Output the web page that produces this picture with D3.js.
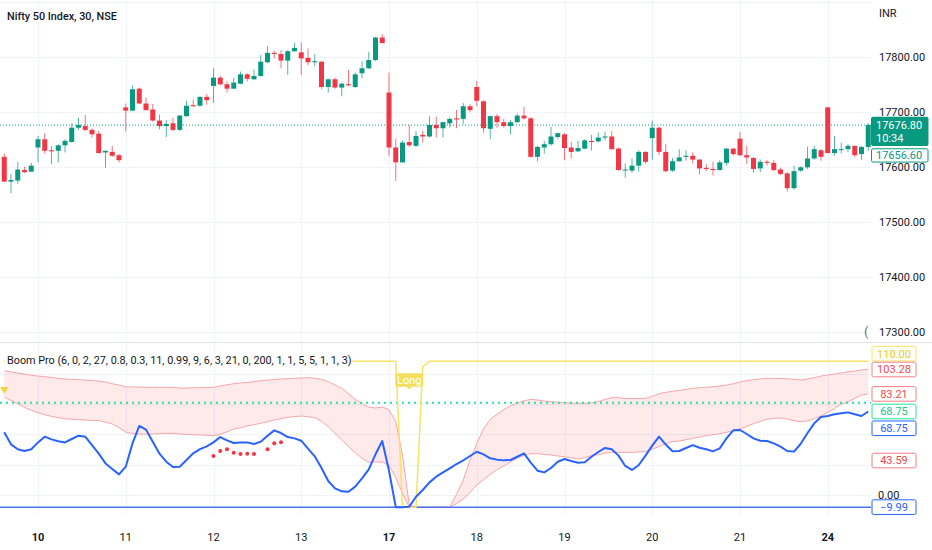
<!DOCTYPE html>
<html>
<head>
<meta charset="utf-8">
<script src="https://cdn.jsdelivr.net/npm/d3@7"></script>
<style>
  body { margin: 0; background: #fff; }
  svg { display: block; font-family: Roboto, "Noto Sans", sans-serif; }
</style>
</head>
<body>
<div id="chart"></div>
<script>
// ---- data (30 min bars, Nifty 50) ----
// first day is only partly visible, so its label is not drawn
var dayLabels  = ["9", "10", "11", "12", "13", "17", "18", "19", "20", "21", "24"];
var dayBars    = [5, 13, 13, 13, 13, 13, 13, 13, 13, 13, 7];
var weekStarts = ["10", "17", "24"];

var open = [
  17619, 17574, 17576, 17595, 17592,
  17636, 17651, 17631, 17630, 17640, 17646, 17672, 17675, 17668, 17661, 17627, 17628, 17622,
  17709, 17703, 17743, 17716, 17705, 17685, 17675, 17680, 17668, 17693, 17713, 17712, 17728,
  17748, 17763, 17751, 17743, 17752, 17769, 17760, 17766, 17791, 17808, 17806, 17794, 17811,
  17809, 17799, 17791, 17792, 17746, 17760, 17745, 17751, 17746, 17771, 17780, 17795, 17836,
  17736, 17636, 17609, 17646, 17639, 17659, 17656, 17677, 17671, 17680, 17689, 17688, 17711,
  17746, 17720, 17670, 17693, 17682, 17675, 17682, 17694, 17689, 17619, 17636, 17642, 17655,
  17660, 17636, 17629, 17634, 17648, 17647, 17654, 17656, 17634, 17595, 17594, 17603, 17628,
  17653, 17672, 17628, 17594, 17611, 17619, 17621, 17614, 17599, 17597, 17595, 17608, 17634,
  17652, 17622, 17617, 17598, 17610, 17608, 17596, 17589, 17562, 17594, 17600, 17616, 17631,
  17709, 17626, 17632, 17633, 17639, 17624, 17637
];
var high = [
  17625, 17588, 17610, 17601, 17608,
  17657, 17662, 17639, 17642, 17651, 17680, 17690, 17695, 17671, 17666, 17630, 17639, 17624,
  17716, 17749, 17745, 17727, 17715, 17696, 17686, 17690, 17695, 17721, 17723, 17729, 17733,
  17780, 17766, 17756, 17763, 17774, 17771, 17778, 17804, 17820, 17812, 17813, 17813, 17826,
  17827, 17816, 17806, 17793, 17761, 17763, 17754, 17777, 17772, 17793, 17810, 17837, 17842,
  17772, 17652, 17649, 17677, 17666, 17666, 17693, 17692, 17683, 17691, 17704, 17717, 17715,
  17757, 17722, 17694, 17697, 17688, 17686, 17698, 17710, 17691, 17639, 17648, 17674, 17663,
  17662, 17646, 17648, 17651, 17659, 17663, 17665, 17666, 17636, 17607, 17616, 17631, 17629,
  17685, 17674, 17642, 17617, 17633, 17631, 17627, 17615, 17606, 17610, 17613, 17635, 17635,
  17664, 17639, 17619, 17614, 17613, 17613, 17599, 17591, 17603, 17602, 17637, 17639, 17633,
  17710, 17657, 17645, 17642, 17639, 17639, 17680
];
var low = [
  17574, 17553, 17570, 17590, 17592,
  17609, 17625, 17606, 17609, 17627, 17645, 17668, 17666, 17654, 17625, 17599, 17619, 17609,
  17665, 17703, 17715, 17703, 17683, 17669, 17655, 17666, 17666, 17692, 17710, 17710, 17714,
  17717, 17749, 17736, 17742, 17751, 17756, 17759, 17765, 17790, 17798, 17780, 17768, 17810,
  17768, 17786, 17784, 17742, 17736, 17743, 17729, 17748, 17744, 17762, 17779, 17793, 17825,
  17620, 17575, 17609, 17637, 17637, 17645, 17654, 17654, 17654, 17672, 17671, 17679, 17700,
  17711, 17663, 17651, 17672, 17672, 17660, 17681, 17687, 17618, 17611, 17625, 17639, 17652,
  17613, 17616, 17628, 17633, 17631, 17646, 17649, 17632, 17594, 17581, 17590, 17592, 17607,
  17614, 17622, 17591, 17592, 17610, 17612, 17607, 17587, 17593, 17585, 17594, 17603, 17621,
  17620, 17606, 17590, 17591, 17603, 17593, 17586, 17556, 17560, 17592, 17597, 17614, 17612,
  17625, 17621, 17625, 17628, 17618, 17614, 17630
];
var close = [
  17574, 17577, 17596, 17591, 17603,
  17651, 17630, 17629, 17640, 17648, 17672, 17677, 17668, 17660, 17626, 17630, 17621, 17613,
  17703, 17742, 17716, 17704, 17685, 17675, 17679, 17668, 17694, 17712, 17711, 17728, 17722,
  17763, 17751, 17743, 17754, 17769, 17761, 17766, 17792, 17808, 17806, 17794, 17811, 17817,
  17798, 17791, 17793, 17746, 17760, 17745, 17752, 17749, 17769, 17780, 17795, 17836, 17826,
  17636, 17609, 17645, 17640, 17657, 17656, 17677, 17671, 17682, 17688, 17687, 17711, 17704,
  17721, 17671, 17693, 17682, 17675, 17682, 17694, 17689, 17619, 17637, 17642, 17656, 17662,
  17635, 17628, 17635, 17649, 17646, 17654, 17656, 17633, 17595, 17596, 17603, 17628, 17610,
  17672, 17628, 17593, 17611, 17618, 17621, 17614, 17598, 17597, 17595, 17609, 17634, 17624,
  17622, 17618, 17597, 17610, 17608, 17595, 17588, 17562, 17593, 17600, 17616, 17633, 17619,
  17626, 17633, 17633, 17639, 17622, 17637, 17676.8
];
var lastPrice = 17676.80, prevPrice = 17656.60, barCountdown = "10:34";
var priceTicks = [17300, 17400, 17500, 17600, 17700, 17800, 17900];

// Boom Pro oscillator (blue), one value per bar
var osc = [
  51.6, 41.7, 37.6, 36.2, 37.6, 43.3, 48.0, 45.8, 44.2, 43.3, 46.1, 48.8, 48.0, 41.1, 34.0, 26.0, 21.4,
  17.0, 23.3, 42.5, 56.8, 53.8, 43.9, 34.0, 27.4, 23.0, 23.3, 28.8, 34.3, 37.8, 40.0, 43.3, 47.7, 45.0,
  42.8, 43.3, 43.3, 42.0, 43.9, 48.8, 53.2, 51.0, 47.7, 46.6, 44.7, 38.1, 31.8, 22.2, 11.5, 5.5, 3.0,
  2.7, 6.9, 13.7, 21.1, 33.5, 44.4, 20.0, -10, -10, -9.6, -1.4, 4.1, 10.4, 15.1, 18.6, 21.9,
  25.5, 28.5, 32.1, 35.6, 33.4, 30.2, 29.1, 28.5, 28.8, 31.5, 34.3, 26.6, 20.0, 18.6, 22.2, 27.4, 29.6,
  28.0, 26.6, 26.9, 31.5, 35.4, 38.7, 37.6, 32.4, 23.9, 20.6, 24.7, 32.4, 40.6, 48.0, 41.5, 36.0,
  36.2, 38.7, 41.1, 38.9, 37.6, 35.9, 38.4, 46.6, 53.2, 53.5, 50.2, 46.6, 44.7, 44.4, 42.5, 39.8, 36.2,
  35.7, 42.2, 51.0, 59.0, 64.2, 65.0, 66.4, 67.2, 68.0, 66.4, 65.0, 68.75
];
// red band
var bandUpper = [
  102.3, 101.2, 100.4, 99.6, 98.5, 97.9, 97.4, 96.8, 96.0, 95.5, 95.2, 94.9, 94.6, 94.1, 93.8, 93.0, 91.6,
  90.5, 89.1, 88.9, 88.9, 88.6, 88.6, 88.6, 88.6, 88.6, 88.0, 88.0, 88.3, 88.3, 88.6, 88.6, 89.7,
  90.8, 91.6, 92.2, 92.7, 93.3, 94.1, 94.6, 94.9, 95.5, 95.7, 96.0, 96.3, 96.6, 96.0, 95.2, 93.3, 90.5,
  87.8, 83.4, 78.7, 75.2, 72.4, 71.6, 72.4, 70.2, 60.3, 32.9, -8.2, -10, -10, -10, -10, -10,
  -10, 0.5, 12.3, 28.8, 42.5, 54.3, 62.3, 66.4, 70.2, 73.5, 75.7, 77.6, 78.7, 78.2, 77.3, 76.8, 76.2,
  76.0, 75.7, 75.4, 75.4, 76.0, 76.8, 78.7, 80.1, 80.1, 79.5, 79.5, 79.5, 79.5, 81.2, 83.4, 84.5, 85.3,
  86.1, 86.9, 87.8, 88.3, 88.6, 89.1, 89.7, 90.5, 91.6, 93.0, 94.1, 94.9, 95.5, 96.0, 96.0, 96.0, 95.7,
  95.2, 94.6, 95.5, 96.6, 97.9, 98.7, 99.6, 100.4, 101.5, 102.0, 102.9, 103.28
];
var bandLower = [
  80.6, 77.9, 75.2, 72.1, 69.7, 67.7, 66.1, 64.7, 63.6, 62.8, 62.3, 62.0, 61.7, 61.4, 61.2, 60.1, 58.4,
  55.4, 51.8, 50.5, 50.2, 49.9, 50.2, 50.5, 50.7, 50.7, 50.2, 49.9, 49.6, 49.4, 49.1, 48.8, 49.9, 52.0,
  54.3, 55.4, 56.8, 57.9, 59.0, 60.3, 61.7, 62.8, 63.9, 64.5, 65.0, 64.5, 63.6, 60.6, 56.2, 50.7,
  45.3, 39.8, 34.6, 30.2, 26.9, 27.4, 26.9, 24.4, 14.3, 1.4, -10, -10, -10, -10, -10, -10,
  -10, -7.1, -3.3, 1.9, 8.2, 12.6, 17.0, 20.8, 23.9, 27.1, 30.2, 32.6, 34.0, 34.0, 33.5, 32.9, 32.1,
  31.5, 30.7, 29.6, 30.7, 32.4, 33.2, 34.3, 35.1, 35.1, 35.1, 35.1, 35.4, 35.7, 37.6, 40.0, 42.2, 43.9,
  44.4, 45.5, 46.6, 47.7, 48.8, 49.6, 50.5, 51.6, 52.9, 54.6, 56.5, 58.7, 60.6, 62.3, 63.1, 63.4, 62.5,
  61.2, 60.3, 60.9, 62.8, 65.0, 68.0, 71.3, 74.6, 76.8, 79.5, 82.3, 83.21
];
// red dots (bar index, value)
var dotIdx = [31, 32, 33, 34, 35, 36, 37, 39, 40, 41];
var dotVal = [32.1, 36.2, 37.6, 34.8, 33.7, 34.0, 33.7, 37.6, 42.6, 43.4];
// yellow signal line, turning points only (bar index, value)
var sigIdx = [0, 58, 59, 61, 62, 63, 128];
var sigVal = [110, 110, -10, -10, 105.6, 110, 110];
var longIdx = 60, markerIdx = 0, markerVal = 87;
var greenLevel = 76, blueLevel = -9.99;
var indTicks = [0, 25, 50, 75, 100];
// values printed on the indicator scale, top to bottom
var indLastValues = [110.00, 103.28, 83.21, 68.75, 68.75, 43.59, -9.99];
var legendText = "Boom Pro (6, 0, 2, 27, 0.8, 0.3, 11, 0.99, 9, 6, 3, 21, 0, 200, 1, 1, 5, 5, 1, 1, 3)";

// ---- layout ----
var W = 932, H = 550, plotR = 871;
var up = "#089981", down = "#f23645", grid = "#f0f3fa", txt = "#131722";

var svg = d3.select("#chart").append("svg")
    .attr("width", W).attr("height", H);

var defs = svg.append("defs");
defs.append("clipPath").attr("id", "clipMain")
    .append("rect").attr("x", 0).attr("y", 0).attr("width", plotR).attr("height", 342);
defs.append("clipPath").attr("id", "clipInd")
    .append("rect").attr("x", 0).attr("y", 343).attr("width", plotR).attr("height", 172);

var x = d3.scaleLinear().domain([0, open.length - 1]).range([4.25, 868.25]);
var y = d3.scaleLinear().domain([17300, 17800]).range([332.3, 57.3]);
var yi = d3.scaleLinear().domain([0, 100]).range([495, 373.5]);

// day start indices
var dayStart = [], acc = 0;
dayBars.forEach(function(n) { dayStart.push(acc); acc += n; });
var days = dayLabels.map(function(d, k) { return { label: d, i: dayStart[k] }; }).slice(1);

// grid
var g = svg.append("g");
g.selectAll(".hg").data(priceTicks).enter().append("line")
    .attr("x1", 0).attr("x2", plotR)
    .attr("y1", function(d) { return Math.round(y(d)) + 0.5; })
    .attr("y2", function(d) { return Math.round(y(d)) + 0.5; })
    .attr("stroke", grid);
g.selectAll(".ig").data(indTicks).enter().append("line")
    .attr("x1", 0).attr("x2", plotR)
    .attr("y1", function(d) { return Math.round(yi(d)) + 0.5; })
    .attr("y2", function(d) { return Math.round(yi(d)) + 0.5; })
    .attr("stroke", grid);
g.selectAll(".vg").data(days).enter().append("line")
    .attr("x1", function(d) { return Math.round(x(d.i)) + 0.5; })
    .attr("x2", function(d) { return Math.round(x(d.i)) + 0.5; })
    .attr("y1", 0).attr("y2", 515)
    .attr("stroke", grid);

// pane separator
svg.append("line").attr("x1", 0).attr("x2", W).attr("y1", 342.5).attr("y2", 342.5)
    .attr("stroke", "#e0e3eb");

// ---- candles ----
var bars = open.map(function(o, i) {
  return { i: i, o: o, h: high[i], l: low[i], c: close[i] };
});
var main = svg.append("g").attr("clip-path", "url(#clipMain)");

main.append("line")
    .attr("x1", 0).attr("x2", plotR)
    .attr("y1", y(lastPrice)).attr("y2", y(lastPrice))
    .attr("stroke", up).attr("stroke-dasharray", "1,2");

main.selectAll(".wick").data(bars).enter().append("line")
    .attr("x1", function(d) { return x(d.i); })
    .attr("x2", function(d) { return x(d.i); })
    .attr("y1", function(d) { return y(d.h); })
    .attr("y2", function(d) { return y(d.l); })
    .attr("stroke", function(d) { return d.c >= d.o ? up : down; })
    .attr("stroke-opacity", 0.7);
main.selectAll(".body").data(bars).enter().append("rect")
    .attr("x", function(d) { return x(d.i) - 2.5; })
    .attr("width", 5)
    .attr("y", function(d) { return y(Math.max(d.o, d.c)); })
    .attr("height", function(d) { return Math.max(1, Math.abs(y(d.o) - y(d.c))); })
    .attr("fill", function(d) { return d.c >= d.o ? up : down; });

// ---- indicator pane ----
var ind = svg.append("g").attr("clip-path", "url(#clipInd)");
var idx = d3.range(osc.length);

ind.append("path").datum(idx)
    .attr("d", d3.area().x(function(i) { return x(i); })
        .y0(function(i) { return yi(bandLower[i]); })
        .y1(function(i) { return yi(bandUpper[i]); }))
    .attr("fill", "rgba(242,54,69,0.11)");
[bandUpper, bandLower].forEach(function(arr) {
  ind.append("path").datum(idx)
      .attr("d", d3.line().x(function(i) { return x(i); }).y(function(i) { return yi(arr[i]); }))
      .attr("fill", "none").attr("stroke", "#f7a6a9").attr("stroke-width", 1);
});

ind.append("line").attr("x1", 0).attr("x2", plotR)
    .attr("y1", yi(greenLevel)).attr("y2", yi(greenLevel))
    .attr("stroke", "#26e0a0").attr("stroke-width", 2).attr("stroke-dasharray", "2,4");

ind.append("line").attr("x1", 0).attr("x2", plotR)
    .attr("y1", yi(blueLevel)).attr("y2", yi(blueLevel))
    .attr("stroke", "#4a74f5").attr("stroke-width", 1.5);

ind.append("path").datum(d3.range(sigIdx.length))
    .attr("d", d3.line().x(function(k) { return x(sigIdx[k]); }).y(function(k) { return yi(sigVal[k]); }))
    .attr("fill", "none").attr("stroke", "#f6e366").attr("stroke-width", 1.5);

ind.append("path").datum(idx)
    .attr("d", d3.line().x(function(i) { return x(i); }).y(function(i) { return yi(osc[i]); }))
    .attr("fill", "none").attr("stroke", "#2962ff").attr("stroke-width", 2)
    .attr("stroke-linejoin", "round");

ind.selectAll(".dot").data(dotIdx).enter().append("circle")
    .attr("cx", function(d) { return x(d); })
    .attr("cy", function(d, k) { return yi(dotVal[k]); })
    .attr("r", 2).attr("fill", down);

ind.append("path")
    .attr("d", d3.symbol().type(d3.symbolTriangle).size(30)())
    .attr("transform", "translate(" + x(markerIdx) + "," + yi(markerVal) + ") rotate(180)")
    .attr("fill", "#f2d53c");

// "Long" tag
var lx = x(longIdx), ly = yi(110) + 28;
var tag = svg.append("g");
tag.append("rect").attr("x", lx - 14).attr("y", ly - 16).attr("width", 28).attr("height", 13.5)
    .attr("rx", 2).attr("fill", "#f2df5e");
tag.append("path").attr("d", "M" + (lx - 3) + "," + (ly - 2.6) + "L" + lx + "," + ly + "L" + (lx + 3) + "," + (ly - 2.6) + "Z")
    .attr("fill", "#f2df5e");
tag.append("text").attr("x", lx).attr("y", ly - 5.5).attr("text-anchor", "middle")
    .attr("font-size", 11).attr("fill", "#fff").text("Long");

// legends
svg.append("text").attr("x", 7).attr("y", 19.5)
    .attr("font-size", 10.8).attr("font-weight", 500).attr("fill", txt)
    .text("Nifty 50 Index, 30, NSE");
var legG = svg.append("g");
var legBg = legG.append("rect").attr("fill", "#fff");
var leg = legG.append("text").attr("x", 7).attr("y", 364)
    .attr("font-size", 10.8).attr("fill", txt).text(legendText);
var lb = leg.node().getBBox();
legBg.attr("x", lb.x - 1).attr("y", lb.y).attr("width", lb.width + 2).attr("height", lb.height);

// ---- price axis ----
var fmt = d3.format(".2f");
var axis = svg.append("g");
axis.append("text").attr("x", 879).attr("y", 17).attr("font-size", 11).attr("fill", txt).text("INR");
axis.selectAll(".pt").data(priceTicks.filter(function(t) { return t < 17900; })).enter().append("text")
    .attr("x", 879).attr("y", function(d) { return y(d); }).attr("dy", "0.35em")
    .attr("font-size", 11).attr("fill", txt)
    .text(function(d) { return fmt(d); });
axis.append("text").attr("x", 864).attr("y", 336).attr("font-size", 13).attr("fill", "#6a6d78").text("(");

var py = y(lastPrice);
axis.append("rect").attr("x", 871).attr("y", py - 8.4).attr("width", 57.5).attr("height", 29.3)
    .attr("rx", 2).attr("fill", up);
axis.append("text").attr("x", 876).attr("y", py).attr("dy", "0.35em")
    .attr("font-size", 11).attr("fill", "#fff").text(fmt(lastPrice));
axis.append("text").attr("x", 876).attr("y", py + 13.5).attr("dy", "0.35em")
    .attr("font-size", 11).attr("fill", "#fff").text(barCountdown);
var ppy = py + 30.2;
axis.append("rect").attr("x", 871.5).attr("y", ppy - 6.5).attr("width", 56.5).attr("height", 13.3)
    .attr("rx", 1.5).attr("fill", "#fff").attr("stroke", up);
axis.append("text").attr("x", 876).attr("y", ppy).attr("dy", "0.35em")
    .attr("font-size", 11).attr("fill", up).text(fmt(prevPrice));

// indicator scale: value labels, and the tick labels they leave uncovered
var labelStyle = [
  { stroke: "#f4e36c", fill: "#fffef2", text: "#e4cc3a", nudge: -7.7 },
  { stroke: "#f57f86", fill: "#fff", text: "#f0474f", nudge: 0 },
  { stroke: "#f57f86", fill: "#fff", text: "#f0474f", nudge: 0 },
  { stroke: "#22e3a0", fill: "#fff", text: "#10c98e", nudge: 0 },
  { stroke: "#2962ff", fill: "#fff", text: "#2962ff", nudge: 16.8 },
  { stroke: "#f57f86", fill: "#fff", text: "#f0474f", nudge: 18.5 },
  { stroke: "#2962ff", fill: "#fff", text: "#2962ff", nudge: 0 }
];
var labelY = indLastValues.map(function(v, k) { return yi(v) + labelStyle[k].nudge; });

axis.selectAll(".it")
    .data(indTicks.filter(function(t) {
      return labelY.every(function(ly) { return Math.abs(ly - yi(t)) > 10; });
    }))
    .enter().append("text")
    .attr("x", 878).attr("y", function(d) { return yi(d); }).attr("dy", "0.35em")
    .attr("font-size", 11).attr("fill", txt)
    .text(function(d) { return fmt(d); });

var lg = axis.selectAll(".il").data(indLastValues).enter().append("g")
    .attr("transform", function(d, k) { return "translate(872," + labelY[k] + ")"; });
lg.append("rect").attr("x", 0).attr("y", -7.3).attr("width", 44).attr("height", 14.6).attr("rx", 1.5)
    .attr("fill", function(d, k) { return labelStyle[k].fill; })
    .attr("stroke", function(d, k) { return labelStyle[k].stroke; });
lg.append("text").attr("x", 22).attr("y", 0).attr("dy", "0.35em").attr("text-anchor", "middle")
    .attr("font-size", 11)
    .attr("fill", function(d, k) { return labelStyle[k].text; })
    .text(function(d) { return fmt(d); });

// ---- time axis ----
svg.append("g").selectAll("text").data(days).enter().append("text")
    .attr("x", function(d) { return x(d.i); }).attr("y", 541)
    .attr("text-anchor", "middle").attr("font-size", 11).attr("fill", txt)
    .attr("font-weight", function(d) { return weekStarts.indexOf(d.label) >= 0 ? 700 : 400; })
    .text(function(d) { return d.label; });
</script>
</body>
</html>
